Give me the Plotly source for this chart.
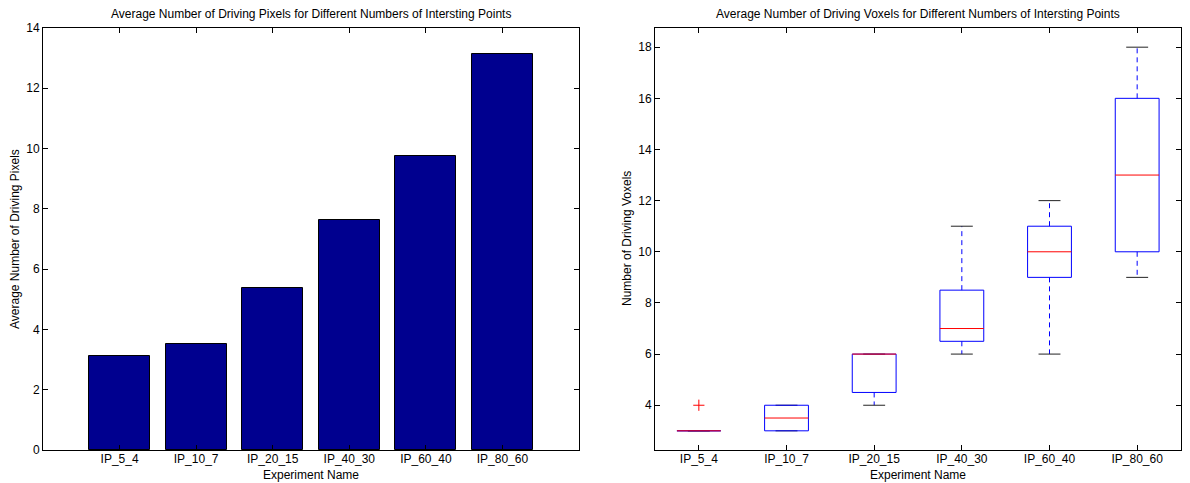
import plotly.graph_objects as go
from plotly.subplots import make_subplots

# ---------------- data ----------------
categories = ["IP_5_4", "IP_10_7", "IP_20_15", "IP_40_30", "IP_60_40", "IP_80_60"]
avg_pixels = [3.12, 3.51, 5.38, 7.64, 9.76, 13.15]

box_lower = [3, 3, 4, 6, 6, 9]
box_q1 = [3, 3, 4.5, 6.5, 9, 10]
box_median = [3, 3.5, 6, 7, 10, 13]
box_q3 = [3, 4, 6, 8.5, 11, 16]
box_upper = [3, 4, 6, 11, 12, 18]
outlier_cat = [1]
outlier_val = [4]

left_title = "Average Number of Driving Pixels for Different Numbers of Intersting Points"
right_title = "Average Number of Driving Voxels for Different Numbers of Intersting Points"
x_title = "Experiment Name"
left_y_title = "Average Number of Driving Pixels"
right_y_title = "Number of Driving Voxels"

# ---------------- figure ----------------
FONT = "Liberation Sans, Arial, Helvetica, sans-serif"
FS = 12
BLUE = "#0000ff"
pos = list(range(1, len(categories) + 1))
L_DOM = [0.0, 0.471]
R_DOM = [0.5378, 1.0]

fig = make_subplots(rows=1, cols=2, horizontal_spacing=0.0)

fig.add_trace(go.Bar(x=pos, y=avg_pixels, width=0.8,
                     marker=dict(color="#00008f", line=dict(color="black", width=1)),
                     showlegend=False), row=1, col=1)

hw = 0.25   # half box width
cw = 0.125  # half cap width
bx, by, mx, my, wx, wy, cx, cy = [], [], [], [], [], [], [], []
for p, lo, q1, md, q3, up in zip(pos, box_lower, box_q1, box_median, box_q3, box_upper):
    bx += [p - hw, p + hw, p + hw, p - hw, p - hw, None]
    by += [q1, q1, q3, q3, q1, None]
    mx += [p - hw, p + hw, None]
    my += [md, md, None]
    wx += [p, p, None, p, p, None]
    wy += [q3, up, None, q1, lo, None]
    cx += [p - cw, p + cw, None, p - cw, p + cw, None]
    cy += [up, up, None, lo, lo, None]

fig.add_trace(go.Scatter(x=wx, y=wy, mode="lines", line=dict(color=BLUE, width=1, dash="5px,4px"),
                         showlegend=False, hoverinfo="skip"), row=1, col=2)
fig.add_trace(go.Scatter(x=cx, y=cy, mode="lines", line=dict(color="#222222", width=1),
                         showlegend=False, hoverinfo="skip"), row=1, col=2)
fig.add_trace(go.Scatter(x=bx, y=by, mode="lines", line=dict(color=BLUE, width=1),
                         showlegend=False, hoverinfo="skip"), row=1, col=2)
fig.add_trace(go.Scatter(x=mx, y=my, mode="lines", line=dict(color="#ff0000", width=1),
                         showlegend=False, hoverinfo="skip"), row=1, col=2)
fig.add_trace(go.Scatter(x=outlier_cat, y=outlier_val, mode="markers",
                         marker=dict(symbol="cross-thin", size=8, line=dict(color="#ff0000", width=1)),
                         showlegend=False, hoverinfo="skip"), row=1, col=2)

axis_common = dict(showline=True, linecolor="black", linewidth=1, mirror="ticks",
                   ticks="inside", ticklen=5, tickcolor="black", showgrid=False, zeroline=False,
                   tickfont=dict(family=FONT, size=FS, color="black"))
title_font = dict(family=FONT, size=FS, color="black")

fig.update_xaxes(**axis_common, domain=L_DOM, range=[0, 7], tickvals=pos, ticktext=categories,
                 ticklabelstandoff=-2, row=1, col=1)
fig.update_yaxes(**axis_common, range=[0, 14], dtick=2, tick0=0, row=1, col=1)
fig.update_xaxes(**axis_common, domain=R_DOM, range=[0.5, 6.5], tickvals=pos, ticktext=categories,
                 ticklabelstandoff=-2, row=1, col=2)
fig.update_yaxes(**axis_common, range=[2.25, 18.75], tickvals=[4, 6, 8, 10, 12, 14, 16, 18],
                 row=1, col=2)

for dom, ttl, ytl in [(L_DOM, left_title, left_y_title), (R_DOM, right_title, right_y_title)]:
    xc = (dom[0] + dom[1]) / 2
    fig.add_annotation(text=ttl, xref="paper", yref="paper", x=xc, y=1, yshift=5,
                       xanchor="center", yanchor="bottom", showarrow=False, font=title_font)
    fig.add_annotation(text=x_title, xref="paper", yref="paper", x=xc, y=0, yshift=-25,
                       xanchor="center", yanchor="middle", showarrow=False, font=title_font)
    fig.add_annotation(text=ytl, xref="paper", yref="paper", x=dom[0], y=0.5, xshift=-28,
                       xanchor="center", yanchor="middle", textangle=-90, showarrow=False,
                       font=title_font)

fig.update_layout(width=1190, height=483, margin=dict(l=43, r=9, t=28, b=33),
                  plot_bgcolor="white", paper_bgcolor="white",
                  font=dict(family=FONT, size=FS, color="black"), bargap=0)

fig.write_html("out.html", config={"displayModeBar": False},
               post_script="document.body.style.margin='0';document.body.style.overflow='hidden';")
